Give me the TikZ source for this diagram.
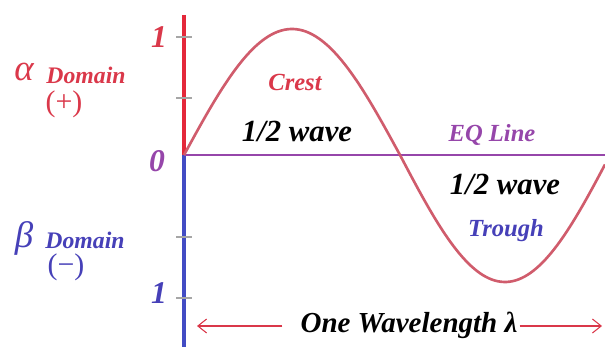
\documentclass[tikz,border=0pt]{standalone}
\usepackage{fontspec}
\setmainfont{Liberation Serif}
\usetikzlibrary{positioning,arrows.meta}
\definecolor{alphared}{RGB}{228,40,58}
\definecolor{betablue}{RGB}{66,76,196}
\definecolor{waverose}{RGB}{208,92,108}
\definecolor{eqpurple}{RGB}{150,70,170}
\definecolor{txtred}{RGB}{218,56,74}
\definecolor{txtblue}{RGB}{70,64,184}

\begin{document}
\begin{tikzpicture}[
		x=0.02cm, y=-0.02cm,
		lbl/.style={font=\bfseries\itshape, inner sep=1pt},
		num/.style={lbl, font=\bfseries\itshape\fontsize{18}{18}\selectfont},
		half/.style={lbl, font=\bfseries\itshape\fontsize{17.5}{18}\selectfont},
		small/.style={lbl, font=\bfseries\itshape\fontsize{14}{15}\selectfont},
		greek/.style={inner sep=1pt, font=\itshape\fontsize{21}{21}\selectfont},
		sign/.style={inner sep=1pt, font=\fontsize{17}{17}\selectfont},
		tick/.style={gray!70, line width=0.6pt},
		arrow/.style={-{Straight Barb[length=5pt,width=8pt]}, txtred, line width=0.6pt}
		]
		\useasboundingbox (0,0) rectangle (605,347);
		
		% axes
		\draw[alphared, line width=2.3pt] (184,15) -- (184,155);
		\draw[betablue, line width=2.3pt] (184,155) -- (184,347);
		\foreach \y in {37,98,237,298}
		\draw[tick] (176,\y) -- (192,\y);
		
		% equilibrium line and wave
		\draw[eqpurple, line width=1.6pt] (184,155) -- (605,155);
		\draw[waverose, line width=1.5pt] plot[domain=184:400, samples=70]
		(\x, {155 - 126*sin((\x-184)/216*180)});
		\draw[waverose, line width=1.5pt] plot[domain=400:605, samples=70]
		(\x, {155 + 127*sin((\x-400)/210*180)});
		
		% axis numbers
		\node[num, txtred] (one) at (159,37) {1};
		\node[num, eqpurple] (zero) at (157,161) {0};
		\node[num, txtblue] (mone) at (159,293) {1};
		
		% domains
		\node[greek, txtred] (alpha) at (24,72) {α};
		\node[small, txtred, font=\bfseries\itshape\fontsize{13.5}{14}\selectfont] (adom) at (86,75) {Domain};
		\node[sign, txtred] (plus) at (64,104) {(+)};
		\node[greek, txtblue] (beta) at (24,238) {β};
		\node[small, txtblue, font=\bfseries\itshape\fontsize{13.5}{14}\selectfont] (bdom) at (85,240) {Domain};
		\node[sign, txtblue] (minus) at (66,267) {(−)};
		
		% inside the wave
		\node[small, txtred] (crest) at (295,82) {Crest};
		\node[half] (halfup) at (297,131) {1/2 wave};
		\node[small, eqpurple] (eq) at (492,135) {EQ Line};
		\node[half] (halfdown) at (505,184) {1/2 wave};
		\node[small, txtblue] (trough) at (506,231) {Trough};
		
		% wavelength
		\node[lbl, font=\bfseries\itshape\fontsize{16.5}{17}\selectfont] (lambda) at (409,325) {One Wavelength λ};
		\coordinate (lend) at (197,326);
		\coordinate (rend) at (602,326);
		\draw[arrow] (lambda.west) ++(-16,1) -- (lend);
		\draw[arrow] (lambda.east) ++(0,1) -- (rend);
		
	\end{tikzpicture}
\end{document}
